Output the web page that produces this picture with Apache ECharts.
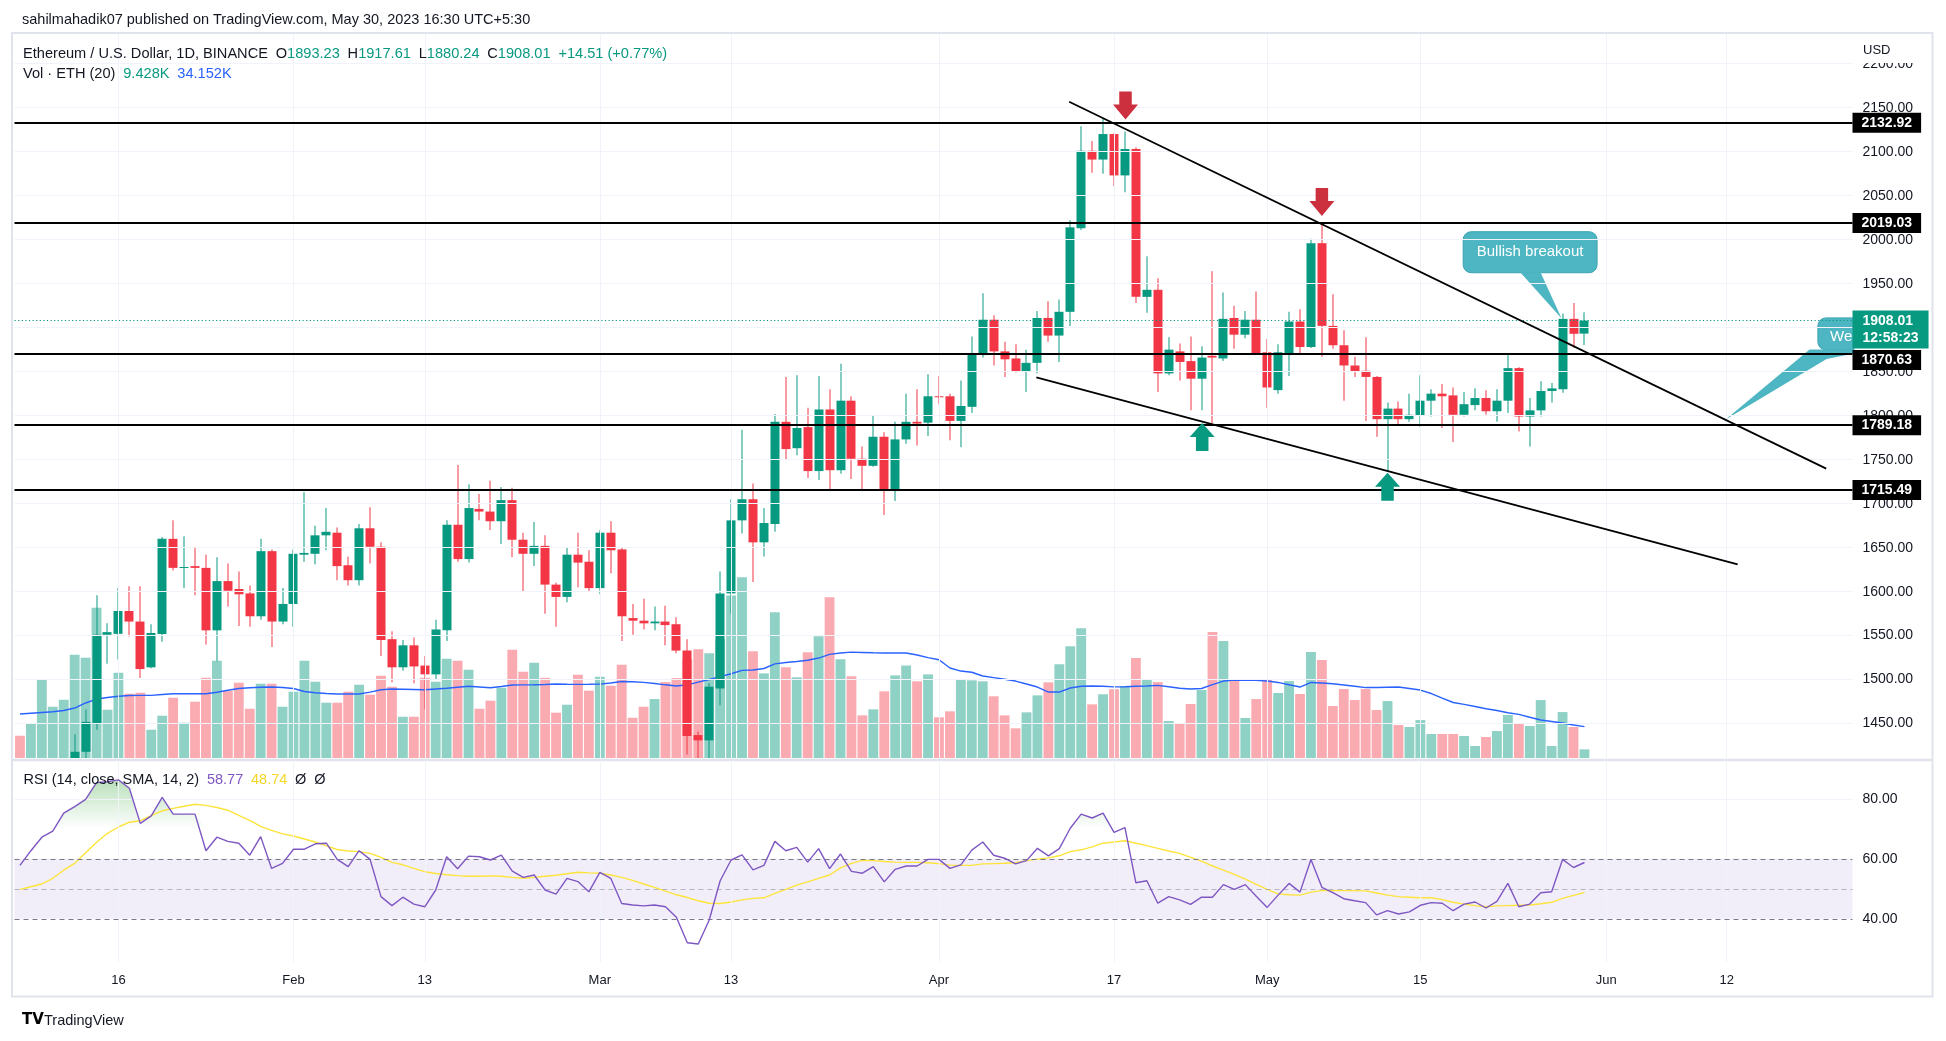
<!DOCTYPE html>
<html><head><meta charset="utf-8">
<script src="https://cdn.jsdelivr.net/npm/echarts@6/dist/echarts.min.js"></script>
<style>html,body{margin:0;padding:0;background:#fff;}#c{width:1946px;height:1041px;}</style>
</head><body><div id="c"></div>
<script>
// ---------- DATA ----------
const dates = [
'01-07','01-08','01-09','01-10','01-11','01-12','01-13','01-14','01-15','01-16','01-17','01-18','01-19','01-20','01-21','01-22','01-23','01-24','01-25','01-26','01-27','01-28','01-29','01-30','01-31',
'02-01','02-02','02-03','02-04','02-05','02-06','02-07','02-08','02-09','02-10','02-11','02-12','02-13','02-14','02-15','02-16','02-17','02-18','02-19','02-20','02-21','02-22','02-23','02-24','02-25','02-26','02-27','02-28',
'03-01','03-02','03-03','03-04','03-05','03-06','03-07','03-08','03-09','03-10','03-11','03-12','03-13','03-14','03-15','03-16','03-17','03-18','03-19','03-20','03-21','03-22','03-23','03-24','03-25','03-26','03-27','03-28','03-29','03-30','03-31',
'04-01','04-02','04-03','04-04','04-05','04-06','04-07','04-08','04-09','04-10','04-11','04-12','04-13','04-14','04-15','04-16','04-17','04-18','04-19','04-20','04-21','04-22','04-23','04-24','04-25','04-26','04-27','04-28','04-29','04-30',
'05-01','05-02','05-03','05-04','05-05','05-06','05-07','05-08','05-09','05-10','05-11','05-12','05-13','05-14','05-15','05-16','05-17','05-18','05-19','05-20','05-21','05-22','05-23','05-24','05-25','05-26','05-27','05-28','05-29','05-30','05-31',
'06-01','06-02','06-03','06-04','06-05','06-06','06-07','06-08','06-09','06-10','06-11','06-12','06-13','06-14','06-15','06-16','06-17','06-18','06-19','06-20','06-21','06-22','06-23'];

const tickDates = ['01-16','02-01','02-13','03-01','03-13','04-01','04-17','05-01','05-15','06-01','06-12'];
const tickTexts = ['16','Feb','13','Mar','13','Apr','17','May','15','Jun','12'];
const priceTicks = [1450,1500,1550,1600,1650,1700,1750,1800,1850,1900,1950,2000,2050,2100,2150,2200];
const rsiTicks = [40,60,80];

// [open, high, low, close]
const candles = [
[1269,1271,1259,1264],[1264,1290,1261,1287],[1287,1346,1284,1321],[1321,1347,1316,1336],[1336,1388,1321,1384],
[1384,1438,1368,1418],[1418,1466,1395,1452],[1450,1596,1443,1551],[1551,1564,1518,1554],[1552,1604,1523,1578],
[1578,1606,1549,1566],[1566,1606,1502,1512],[1514,1563,1513,1553],[1552,1662,1543,1660],[1660,1681,1624,1627],
[1627,1663,1604,1628],[1629,1651,1596,1627],[1627,1642,1540,1556],[1556,1639,1521,1612],[1612,1632,1583,1601],
[1603,1623,1561,1597],[1598,1607,1560,1572],[1572,1660,1568,1646],[1646,1648,1537,1566],[1566,1604,1563,1586],
[1586,1648,1560,1643],[1642,1713,1634,1644],[1643,1675,1631,1664],[1664,1695,1647,1668],[1667,1673,1613,1629],
[1630,1640,1607,1613],[1613,1677,1607,1672],[1672,1696,1632,1651],[1651,1656,1527,1545],[1546,1555,1497,1514],
[1514,1545,1510,1539],[1539,1548,1496,1515],[1516,1527,1466,1506],[1506,1568,1500,1557],[1556,1681,1544,1676],
[1676,1744,1634,1637],[1637,1722,1633,1695],[1694,1711,1681,1691],[1691,1726,1670,1680],[1680,1719,1654,1704],
[1704,1718,1639,1659],[1659,1667,1600,1643],[1643,1679,1629,1652],[1652,1664,1575,1608],[1608,1610,1560,1594],
[1594,1650,1588,1642],[1642,1667,1605,1633],[1634,1647,1600,1604],
[1604,1670,1597,1667],[1667,1680,1621,1647],[1648,1650,1544,1572],[1570,1586,1551,1567],[1567,1592,1557,1564],
[1564,1583,1556,1566],[1566,1584,1539,1562],[1563,1571,1530,1533],[1533,1546,1415,1436],[1437,1441,1368,1431],
[1431,1496,1375,1492],[1490,1623,1471,1598],[1598,1705,1575,1681],[1681,1784,1666,1705],[1705,1723,1611,1656],
[1656,1695,1640,1678],[1677,1802,1668,1793],[1793,1844,1750,1762],[1763,1846,1755,1786],[1787,1809,1729,1737],
[1737,1845,1727,1807],[1807,1830,1716,1738],[1738,1859,1734,1817],[1817,1822,1728,1751],[1751,1765,1716,1743],
[1743,1800,1742,1776],[1776,1781,1687,1716],[1716,1793,1703,1773],[1773,1825,1768,1793],[1793,1830,1766,1791],
[1792,1847,1777,1822],
[1822,1845,1813,1821],[1822,1825,1772,1794],[1794,1840,1764,1811],[1810,1890,1803,1871],[1871,1939,1866,1909],
[1909,1914,1857,1873],[1873,1884,1844,1864],[1865,1881,1849,1850],[1850,1875,1827,1860],[1860,1919,1848,1911],
[1911,1930,1884,1891],[1891,1932,1861,1918],[1918,2022,1902,2014],[2013,2129,2011,2101],[2101,2112,2076,2091],
[2091,2138,2075,2120],[2120,2121,2061,2073],[2073,2123,2054,2103],[2103,2105,1928,1935],[1935,1981,1917,1943],
[1943,1956,1827,1848],[1848,1889,1846,1875],[1873,1882,1840,1861],[1862,1890,1806,1842],[1842,1879,1806,1866],
[1868,1964,1791,1866],[1865,1940,1862,1910],[1911,1925,1876,1892],[1892,1919,1888,1909],[1909,1941,1870,1871],
[1872,1887,1809,1832],[1829,1881,1825,1872],[1871,1918,1845,1907],[1907,1921,1869,1878],[1878,2001,1877,1996],
[1996,2019,1867,1902],[1902,1938,1876,1880],[1880,1897,1817,1857],[1857,1867,1844,1850],[1851,1889,1794,1844],
[1844,1845,1776,1796],[1796,1815,1737,1808],[1808,1816,1790,1796],[1796,1825,1793,1801],[1800,1846,1787,1817],
[1817,1830,1799,1825],[1825,1836,1786,1822],[1823,1832,1770,1801],[1801,1827,1799,1813],[1812,1831,1806,1820],
[1820,1829,1801,1805],[1805,1830,1793,1817],[1817,1871,1803,1854],[1854,1855,1782,1799],[1799,1820,1765,1806],
[1806,1839,1799,1828],[1828,1837,1815,1831],[1830,1916,1826,1910],[1910,1928,1877,1893],[1893.23,1917.61,1880.24,1908.01]];

// volume, thousands of ETH
const volumes = [24.3,38.2,85.3,55.9,63.5,112.6,109.3,163.8,52.6,93.0,
70.1,71.2,30.8,46.1,65.7,38.5,61.4,87.5,106.1,73.0,
82.1,53.7,81.0,81.0,55.9,72.3,106.1,83.2,60.3,60.3,
72.3,79.9,69.0,89.7,77.7,45.0,45.0,87.5,83.2,108.2,
106.1,96.2,53.7,62.5,76.6,118.0,94.1,103.9,87.5,49.4,
58.1,90.8,73.4,88.6,78.8,101.7,43.9,55.9,64.3,82.8,
87.2,107.6,118.5,114.1,129.4,177.3,197.0,116.3,92.3,158.8,
98.9,88.0,115.2,132.7,175.2,107.6,89.1,46.5,53.1,72.7,
90.1,101.0,83.6,91.2,44.4,50.9,85.8,84.7,83.6,67.3,
46.5,32.4,49.8,68.3,82.5,102.1,121.8,141.4,58.5,69.5,
75.0,78.5,109.0,86.1,82.8,40.3,37.1,58.9,74.1,137.3,
127.5,83.9,43.6,64.3,85.0,70.9,83.9,69.8,115.5,106.8,
56.7,75.2,63.2,75.2,52.3,62.1,36.0,33.8,41.4,26.2,
26.2,26.2,24.0,13.1,22.9,29.4,46.9,37.1,34.9,63.2,
13.1,50.1,33.8,9.428];

const volumeMA = [48.0,48.8,49.6,50.4,51.8,54.5,60.0,64.3,65.9,67.3,
68.1,68.3,68.3,69.2,70.1,70.1,70.1,70.1,71.7,73.9,
75.8,76.6,77.1,77.4,76.8,75.8,72.5,71.2,70.3,69.8,
69.8,69.8,71.9,74.4,75.2,75.0,74.7,74.4,75.2,76.0,
77.1,78.2,77.4,76.6,78.0,79.6,79.7,79.9,80.2,80.7,
80.4,80.3,80.4,80.6,81.8,83.4,83.1,82.5,81.2,79.8,
78.5,79.8,82.8,85.6,88.8,91.9,95.6,95.9,97.6,102.7,
104.1,105.2,106.6,109.0,113.0,114.5,115.5,115.1,114.7,114.5,
114.5,114.5,112.3,109.5,107.1,98.1,94.8,93.5,89.4,87.7,
85.9,83.9,80.7,77.4,71.9,71.9,76.3,78.2,78.5,78.3,
77.6,77.7,78.3,78.5,79.2,77.7,76.0,75.2,75.8,80.1,
83.9,85.0,84.8,84.7,83.9,82.4,79.9,77.4,82.4,81.8,
80.9,79.6,78.3,76.8,76.8,77.2,77.4,75.8,74.1,70.3,
65.4,60.5,58.5,56.1,53.7,51.8,49.4,47.6,44.4,41.4,
39.8,38.2,36.0,34.152];

const rsi = [57.8,62.7,67.2,69.2,75.2,77.4,79.8,85.4,85.7,86.3,
83.5,71.8,74.3,80.5,74.9,74.9,74.9,62.7,67.2,65.8,
65.2,61.2,67.4,56.8,58.5,63.2,63.2,65.0,65.2,59.8,
57.4,62.7,59.8,47.4,44.4,47.2,44.9,44.0,49.6,60.7,
56.7,60.9,60.7,59.6,61.2,55.9,53.8,54.6,49.6,48.2,
53.5,52.4,49.0,55.5,53.5,45.1,44.6,44.3,44.6,44.0,
40.5,32.0,31.6,39.6,52.7,59.6,61.3,56.3,57.8,65.8,
62.7,63.8,58.9,63.4,56.7,61.6,55.8,55.2,57.4,52.3,
56.5,57.6,57.6,59.8,59.8,56.8,58.0,62.9,65.6,61.2,
60.2,58.3,59.4,63.5,61.0,63.4,70.2,74.9,73.6,75.2,
68.8,70.4,52.0,52.7,45.2,47.4,46.3,44.8,47.2,47.2,
51.4,49.8,51.4,47.5,43.8,47.9,51.8,48.9,59.8,50.5,
48.7,46.7,46.0,45.4,41.3,42.7,41.6,42.3,44.5,45.4,
45.2,42.7,44.9,45.6,43.6,45.8,51.8,44.0,44.9,48.7,
49.0,59.8,57.1,58.77];

const rsiMA = [49.8,50.7,51.6,53.5,56.2,58.5,62.0,65.5,68.5,70.6,
72.2,72.7,74.4,76.0,76.8,77.5,78.2,77.8,77.1,76.2,
74.5,72.8,70.8,69.5,68.3,67.6,66.6,65.6,64.3,63.1,
62.6,62.4,61.8,60.5,58.8,58.0,56.8,55.7,55.1,54.7,
54.4,54.2,54.2,54.3,54.2,53.8,53.5,53.8,54.2,54.5,
55.0,55.5,55.3,55.2,54.6,53.8,52.8,51.6,50.5,49.2,
48.0,47.1,46.0,45.2,45.1,45.6,46.3,46.8,47.0,48.5,
49.8,51.2,52.3,53.5,54.6,57.0,58.5,59.5,59.4,59.1,
58.9,58.8,58.8,58.7,58.4,57.9,57.8,57.8,58.3,58.4,
58.5,58.7,59.4,59.9,60.3,61.0,62.4,63.0,64.0,65.2,
65.6,66.0,65.2,64.4,63.5,62.6,61.8,60.5,59.2,57.6,
56.2,54.8,53.2,51.5,49.8,48.3,48.0,47.9,48.9,49.4,
49.4,49.4,49.4,49.3,48.6,47.9,47.4,47.2,47.0,47.0,
46.4,45.5,44.9,44.4,44.0,44.3,44.4,44.5,44.6,45.0,
45.5,46.8,47.8,48.74];

const levels = [2132.92, 2019.03, 1870.63, 1789.18, 1715.49];
const countdown = '12:58:23';
const changeText = '+14.51 (+0.77%)';
// drawings in [day index, price]
const upperTrend = [[95.9, 2156.7], [165.1, 1739.8]];
const lowerTrend = [[92.9, 1843.6], [157.0, 1631.1]];
const arrowsDown = [[101.05, 2152.4], [119.0, 2042.9]];
const arrowsUp = [[108.06, 1775.7], [125.0, 1719.2]];
const callout1Tip = [140.9, 1910.6];
const callout2Tip = [155.9, 1795.5];

// ---------- STYLE ----------
const FONT = "'Liberation Sans', Arial, sans-serif";
const UP = '#089981', DN = '#f23645';
const VOL_UP = 'rgba(8,153,129,0.45)', VOL_DN = 'rgba(242,54,69,0.42)';
const TXT = '#131722', GRIDC = '#f0f3fa';
const GL = 14.5, GR = 93.5, PT = 34, PH = 724, RT = 762, RH = 200;
const PRICE_MIN = 1410.95, PRICE_MAX = 2233.7, RSI_MIN = 25.6, RSI_MAX = 92.27, VOL_MAX = 789.5;
const BODY_W = 9;

const last = candles[candles.length - 1];
const lastClose = last[3];

const chart = echarts.init(document.getElementById('c'), null, {width: 1946, height: 1041});

const levelLine = (v, extraOffset) => ({
  yAxis: v,
  lineStyle: {color: '#000', width: 2, type: 'solid'},
  label: {show: true, position: 'end', distance: 0, formatter: v.toFixed(2), color: '#fff',
    backgroundColor: '#000', fontFamily: FONT, fontSize: 14, fontWeight: 'bold',
    padding: [2, 9, 2, 9], lineHeight: 16, offset: [0, extraOffset]}
});

// candlestick drawn with the library's scales, clipped to the price pane
function renderCandle(params, api) {
  const i = api.value(0), o = api.value(1), c = api.value(2), l = api.value(3), h = api.value(4);
  const pO = api.coord([i, o]), pC = api.coord([i, c]), pL = api.coord([i, l]), pH = api.coord([i, h]);
  const cs = params.coordSys;
  const top = cs.y, bot = cs.y + cs.height;
  const color = c >= o ? UP : DN;
  const x = pO[0];
  const children = [];
  const wt = Math.max(pH[1], top), wb = Math.min(pL[1], bot);
  if (wb > wt) children.push({type: 'rect', shape: {x: Math.round(x) - 0.5, y: wt, width: 1, height: wb - wt}, style: {fill: color}});
  const bt = Math.max(Math.min(pO[1], pC[1]), top), bb = Math.min(Math.max(pO[1], pC[1]), bot);
  if (bb >= bt && bt < bot) children.push({type: 'rect', shape: {x: Math.round(x) - BODY_W / 2, y: bt, width: BODY_W, height: Math.max(bb - bt, 1)}, style: {fill: color}});
  return {type: 'group', children: children};
}

const option = {
  animation: false,
  backgroundColor: '#fff',
  grid: [
    {left: GL, right: GR, top: PT, height: PH},
    {left: GL, right: GR, top: RT, height: RH}
  ],
  xAxis: [
    {type: 'category', gridIndex: 0, data: dates, boundaryGap: true, axisLine: {show: false}, axisTick: {show: false}, axisLabel: {show: false}, splitLine: {show: false}},
    {type: 'category', gridIndex: 1, data: dates, boundaryGap: true, axisLine: {show: false}, axisTick: {show: false}, splitLine: {show: false},
      axisLabel: {show: true, interval: (idx, val) => tickDates.includes(val),
        formatter: (val) => { const k = tickDates.indexOf(val); return k >= 0 ? tickTexts[k] : ''; },
        color: TXT, fontSize: 13, fontFamily: FONT, margin: 12}},
    {type: 'value', gridIndex: 0, min: -0.5, max: dates.length - 0.5, show: false}
  ],
  yAxis: [
    {type: 'value', gridIndex: 0, position: 'right', min: PRICE_MIN, max: PRICE_MAX,
      axisLine: {show: false}, axisTick: {show: false}, splitLine: {show: false},
      axisLabel: {customValues: priceTicks, formatter: (v) => v.toFixed(2), color: TXT, fontSize: 14, fontFamily: FONT, margin: 10}},
    {type: 'value', gridIndex: 0, min: 0, max: VOL_MAX, show: false},
    {type: 'value', gridIndex: 1, position: 'right', min: RSI_MIN, max: RSI_MAX,
      axisLine: {show: false}, axisTick: {show: false}, splitLine: {show: false},
      axisLabel: {customValues: rsiTicks, formatter: (v) => v.toFixed(2), color: TXT, fontSize: 14, fontFamily: FONT, margin: 10}}
  ],
  series: [
    { // price pane grid
      id: 'priceGrid', type: 'line', xAxisIndex: 0, yAxisIndex: 0, data: dates.map(() => '-'), z: 0, silent: true, symbol: 'none',
      markLine: {silent: true, symbol: ['none', 'none'], animation: false, label: {show: false},
        lineStyle: {color: GRIDC, width: 1, type: 'solid'},
        data: priceTicks.map(v => ({yAxis: v})).concat(tickDates.map(d => ({xAxis: d})))}
    },
    { // rsi pane grid
      id: 'rsiGrid', type: 'line', xAxisIndex: 1, yAxisIndex: 2, data: dates.map(() => '-'), z: 0, silent: true, symbol: 'none',
      markLine: {silent: true, symbol: ['none', 'none'], animation: false, label: {show: false},
        lineStyle: {color: GRIDC, width: 1, type: 'solid'},
        data: [{yAxis: 80}].concat(tickDates.map(d => ({xAxis: d})))}
    },
    {
      id: 'volume', type: 'bar', xAxisIndex: 0, yAxisIndex: 1, barWidth: '90%', z: 1, silent: true,
      data: volumes.map((v, i) => ({value: v, itemStyle: {color: candles[i][3] >= candles[i][0] ? VOL_UP : VOL_DN}}))
    },
    {
      id: 'volMA', type: 'line', xAxisIndex: 0, yAxisIndex: 1, data: volumeMA, symbol: 'none', z: 2, silent: true,
      lineStyle: {color: '#2962ff', width: 1.4}
    },
    {
      id: 'candles', type: 'custom', xAxisIndex: 0, yAxisIndex: 0, z: 3, silent: true,
      data: candles.map((r, i) => [i, r[0], r[3], r[2], r[1]]),
      encode: {x: 0, y: [1, 2, 3, 4]},
      renderItem: renderCandle
    },
    { // horizontal levels + last price
      id: 'levels', type: 'line', xAxisIndex: 0, yAxisIndex: 0, data: dates.map(() => '-'), z: 6, silent: true, symbol: 'none',
      markLine: {silent: true, symbol: ['none', 'none'], animation: false,
        data: [{yAxis: lastClose, lineStyle: {color: UP, width: 1, type: [1.2, 2.4]},
            label: {show: true, position: 'end', distance: 0, formatter: lastClose.toFixed(2) + '\n' + countdown,
              color: '#fff', backgroundColor: UP, fontFamily: FONT, fontSize: 14, fontWeight: 'bold',
              padding: [2, 10, 2, 10], lineHeight: 17, offset: [0, 9]}}]
          .concat(levels.map(v => levelLine(v, Math.abs(v - lastClose) < 45 ? 6.5 : 0)))}
    },
    {
      id: 'trendUp', type: 'line', xAxisIndex: 2, yAxisIndex: 0, data: upperTrend, symbol: 'none', z: 6, silent: true,
      lineStyle: {color: '#000', width: 1.8}
    },
    {
      id: 'trendDown', type: 'line', xAxisIndex: 2, yAxisIndex: 0, data: lowerTrend, symbol: 'none', z: 6, silent: true,
      lineStyle: {color: '#000', width: 1.8}
    },
    {
      id: 'arrowsDown', type: 'scatter', xAxisIndex: 2, yAxisIndex: 0, data: arrowsDown, z: 7, silent: true,
      symbol: 'path://M6,0 L18,0 L18,13 L24,13 L12,28 L0,13 L6,13 Z', symbolSize: [25, 28],
      itemStyle: {color: '#cc2f3e', opacity: 1}
    },
    {
      id: 'arrowsUp', type: 'scatter', xAxisIndex: 2, yAxisIndex: 0, data: arrowsUp, z: 7, silent: true,
      symbol: 'path://M6,28 L18,28 L18,14 L24,14 L12,0 L0,14 L6,14 Z', symbolSize: [25, 28],
      itemStyle: {color: UP, opacity: 1}
    },
    { // overbought fill
      id: 'rsiOver', type: 'line', xAxisIndex: 1, yAxisIndex: 2, data: rsi.map(v => Math.max(v, 70)), symbol: 'none', z: 3, silent: true,
      lineStyle: {width: 0, opacity: 0},
      areaStyle: {origin: 70, color: new echarts.graphic.LinearGradient(0, 0, 0, 1, [
        {offset: 0, color: 'rgba(76,175,80,0.55)'}, {offset: 1, color: 'rgba(76,175,80,0.0)'}])}
    },
    {
      id: 'rsiMA', type: 'line', xAxisIndex: 1, yAxisIndex: 2, data: rsiMA, symbol: 'none', z: 4, silent: true,
      lineStyle: {color: '#fde43b', width: 1.4}
    },
    {
      id: 'rsi', type: 'line', xAxisIndex: 1, yAxisIndex: 2, data: rsi, symbol: 'none', z: 5, silent: true,
      lineStyle: {color: '#7e57c2', width: 1.4},
      markArea: {silent: true, itemStyle: {color: 'rgba(126,87,194,0.1)'}, data: [[{yAxis: 40}, {yAxis: 60}]]},
      markLine: {silent: true, symbol: ['none', 'none'], animation: false, label: {show: false},
        data: [
          {yAxis: 60, lineStyle: {color: '#787b86', width: 1, type: [5, 4]}},
          {yAxis: 50, lineStyle: {color: 'rgba(120,123,134,0.5)', width: 1, type: [5, 4]}},
          {yAxis: 40, lineStyle: {color: '#787b86', width: 1, type: [5, 4]}}
        ]}
    }
  ]
};
chart.setOption(option);

// ---------- annotations anchored to data ----------
const f = {seriesId: 'trendUp'};
const t1 = chart.convertToPixel(f, callout1Tip);
const t2 = chart.convertToPixel(f, callout2Tip);
const CALL = '#4db6c2', CALLB = '#3aa3b2';
const lastVol = volumes[volumes.length - 1], lastVolMA = volumeMA[volumeMA.length - 1];

const txt = (x, y, s, extra) => Object.assign({type: 'text', z: 20, silent: true,
  style: Object.assign({x: x, y: y, text: s, fill: TXT, fontSize: 14, fontFamily: FONT, verticalAlign: 'middle', align: 'left'}, extra || {})});
const FS = 14.6;

const graphics = [
  {type: 'rect', z: 30, silent: true, shape: {x: 12, y: 33, width: 1920.5, height: 963.5}, style: {fill: 'none', stroke: '#e0e3eb', lineWidth: 2}},
  {type: 'line', z: 30, silent: true, shape: {x1: 12, y1: 760, x2: 1932, y2: 760}, style: {stroke: '#e0e3eb', lineWidth: 2.5}},
  txt(22, 20, 'sahilmahadik07 published on TradingView.com, May 30, 2023 16:30 UTC+5:30', {fontSize: 14.5}),
  txt(23, 53.5, '{a|Ethereum / U.S. Dollar, 1D, BINANCE}  {a|O}{g|' + last[0].toFixed(2) + '}  {a|H}{g|' + last[1].toFixed(2) +
      '}  {a|L}{g|' + last[2].toFixed(2) + '}  {a|C}{g|' + last[3].toFixed(2) + '}  {g|' + changeText + '}',
    {rich: {a: {fill: TXT, fontSize: FS, fontFamily: FONT}, g: {fill: UP, fontSize: FS, fontFamily: FONT}}}),
  txt(23, 74, '{a|Vol · ETH (20)}  {g|' + lastVol.toFixed(3) + 'K}  {b|' + lastVolMA.toFixed(3) + 'K}',
    {rich: {a: {fill: TXT, fontSize: FS, fontFamily: FONT}, g: {fill: UP, fontSize: FS, fontFamily: FONT}, b: {fill: '#2962ff', fontSize: FS, fontFamily: FONT}}}),
  txt(23.5, 779.5, '{a|RSI (14, close, SMA, 14, 2)}  {p|' + rsi[rsi.length - 1].toFixed(2) + '}  {y|' + rsiMA[rsiMA.length - 1].toFixed(2) + '}  {a|Ø}  {a|Ø}',
    {rich: {a: {fill: TXT, fontSize: 14.5, fontFamily: FONT}, p: {fill: '#7e57c2', fontSize: 14.5, fontFamily: FONT}, y: {fill: '#f3d626', fontSize: 14.5, fontFamily: FONT}}}),
  {type: 'rect', z: 19, silent: true, shape: {x: 1855, y: 35, width: 75, height: 28}, style: {fill: '#fff'}},
  txt(1863, 50, 'USD', {fontSize: 13}),
  txt(22, 1020, 'TV', {fontSize: 15, fontWeight: 900, fill: '#000', fontFamily: "'DejaVu Sans', sans-serif"}),
  txt(44, 1020.5, 'TradingView', {fontSize: 14.5}),
  // callout 1
  {type: 'rect', z: 1, silent: true, shape: {x: t1[0] - 98.3, y: t1[1] - 86.6, width: 133.9, height: 41, r: 8}, style: {fill: CALL, stroke: CALLB, lineWidth: 1}},
  {type: 'polygon', z: 1, silent: true, shape: {points: [[t1[0] - 41.3, t1[1] - 46.1], [t1[0] - 21, t1[1] - 46.1], [t1[0], t1[1]]]}, style: {fill: CALL}},
  txt(t1[0] - 31.4, t1[1] - 66.4, 'Bullish breakout', {fill: '#fff', fontSize: 15, align: 'center'}),
  // callout 2 (clipped by the price scale)
  {type: 'rect', z: 1, silent: true, shape: {x: t2[0] + 92.3, y: t2[1] - 101.7, width: 36, height: 32, r: [8, 0, 0, 8]}, style: {fill: CALL, stroke: CALLB, lineWidth: 1}},
  {type: 'polygon', z: 1, silent: true, shape: {points: [[t2[0], t2[1]], [t2[0] + 84, t2[1] - 70.2], [t2[0] + 128.5, t2[1] - 70.2], [t2[0] + 128.5, t2[1] - 66], [t2[0] + 101, t2[1] - 60.7]]}, style: {fill: CALL}},
  Object.assign(txt(t2[0] + 104.4, t2[1] - 83.2, 'We', {fill: '#fff', fontSize: 15}), {z: 1})
];
chart.setOption({graphic: graphics});
</script>
</body></html>
